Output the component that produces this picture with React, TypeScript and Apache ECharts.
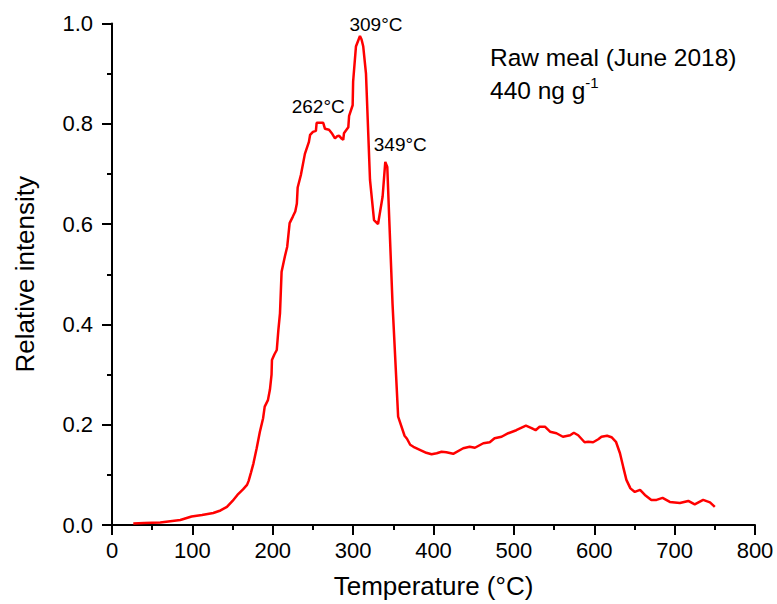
import React, { useEffect, useRef } from "react";
import * as echarts from "echarts";

// Thermal desorption profile, raw meal sample
const temperatures = [
  26.5, 40, 60, 75, 85, 99, 112, 126, 135, 143, 150, 156, 163, 168, 170, 173, 176, 180, 184, 188,
  190, 194, 196.5, 198.5, 199, 202, 205, 207, 209, 211, 215, 218, 221, 225, 228, 230, 231, 235, 240, 245,
  246.5, 250, 253.7, 254.6, 258, 262.8, 265, 270, 274, 277.4, 280, 282.7, 286, 287.7, 288.6, 294, 295, 299.4, 300, 303.5,
  308.5, 310.5, 312.6, 316, 321, 326, 331, 336.7, 340, 342.5, 345, 349, 356, 364, 367, 371, 375, 383, 391, 397.6,
  404, 410, 416, 424.5, 437, 445, 451.5, 462, 470, 476, 484.7, 493, 503, 515, 522, 527, 532, 538.6, 545, 553,
  561, 570, 574.6, 580, 588, 592.5, 598.6, 605, 609, 616, 621.5, 627, 632, 636, 640, 645, 650.5, 657, 663, 671,
  677.5, 685, 694, 706.5, 717, 725, 735.5, 744, 750,
];
const intensities = [
  0.003, 0.004, 0.005, 0.008, 0.01, 0.017, 0.02, 0.024, 0.029, 0.036, 0.048, 0.06, 0.071, 0.08, 0.088, 0.105, 0.123, 0.153, 0.186, 0.213,
  0.236, 0.249, 0.27, 0.3, 0.329, 0.34, 0.349, 0.389, 0.422, 0.505, 0.535, 0.555, 0.602, 0.615, 0.625, 0.641, 0.673, 0.698, 0.74, 0.764,
  0.778, 0.784, 0.786, 0.802, 0.802, 0.802, 0.79, 0.788, 0.78, 0.771, 0.775, 0.776, 0.77, 0.768, 0.781, 0.793, 0.816, 0.837, 0.884, 0.954,
  0.975, 0.968, 0.954, 0.9, 0.688, 0.608, 0.6, 0.655, 0.724, 0.714, 0.608, 0.442, 0.216, 0.178, 0.172, 0.16, 0.156, 0.15, 0.144, 0.141,
  0.143, 0.146, 0.145, 0.142, 0.153, 0.156, 0.154, 0.163, 0.165, 0.173, 0.176, 0.183, 0.189, 0.198, 0.193, 0.189, 0.196, 0.196, 0.186, 0.183,
  0.176, 0.179, 0.184, 0.179, 0.165, 0.166, 0.165, 0.171, 0.176, 0.178, 0.175, 0.166, 0.143, 0.116, 0.09, 0.073, 0.066, 0.07, 0.06, 0.05,
  0.05, 0.054, 0.046, 0.044, 0.048, 0.041, 0.05, 0.045, 0.036,
];

// Peak annotations
const peakTemps = [262.8, 308.5, 340];
const peakValues = [0.802, 0.975, 0.724];
const peakLabels = ["262°C", "309°C", "349°C"];
const peakOffsets: [number, number][] = [
  [-5, -16],
  [16, -12],
  [15, -17],
];

const FONT = "'Liberation Sans', Arial, Helvetica, sans-serif";

export default function App() {
  const ref = useRef<HTMLDivElement>(null);

  useEffect(() => {
    if (!ref.current) return;
    const chart = echarts.init(ref.current, undefined, { renderer: "svg" });
    const points = temperatures.map((t, i) => [t, intensities[i]]);

    const axisCommon = {
      axisLine: { show: true, onZero: false, lineStyle: { color: "#000", width: 2 } },
      axisTick: { show: true, inside: false, length: 10, lineStyle: { color: "#000", width: 2 } },
      minorTick: { show: true, splitNumber: 2, length: 5, lineStyle: { color: "#000", width: 2 } },
      splitLine: { show: false },
      minorSplitLine: { show: false },
      nameTextStyle: { fontFamily: FONT, fontSize: 26, color: "#000" },
    };

    chart.setOption({
      animation: false,
      backgroundColor: "#fff",
      grid: { left: 112, right: 22, top: 23.5, bottom: 79, containLabel: false },
      xAxis: {
        type: "value",
        min: 0,
        max: 800,
        interval: 100,
        name: "Temperature (°C)",
        nameLocation: "middle",
        nameGap: 48,
        ...axisCommon,
        axisLabel: { margin: 14, fontFamily: FONT, fontSize: 22, color: "#000" },
      },
      yAxis: {
        type: "value",
        min: 0,
        max: 1,
        interval: 0.2,
        name: "Relative intensity",
        nameLocation: "middle",
        nameGap: 74,
        ...axisCommon,
        axisLabel: {
          margin: 19,
          fontFamily: FONT,
          fontSize: 22,
          color: "#000",
          formatter: (v: number) => v.toFixed(1),
        },
      },
      series: [
        {
          type: "line",
          data: points,
          showSymbol: false,
          symbol: "none",
          lineStyle: { color: "#ff0000", width: 2.5 },
          markPoint: {
            symbol: "circle",
            symbolSize: 0,
            silent: true,
            label: {
              show: true,
              position: "inside",
              fontFamily: FONT,
              fontSize: 19,
              color: "#000",
            },
            data: peakLabels.map((txt, i) => ({
              coord: [peakTemps[i], peakValues[i]],
              label: { formatter: txt, offset: peakOffsets[i] },
            })),
          },
        },
      ],
      graphic: [
        {
          type: "text",
          left: 490,
          top: 45,
          style: {
            text: "Raw meal (June 2018)",
            font: `24.5px ${FONT}`,
            fill: "#000",
          },
        },
        {
          type: "text",
          left: 490,
          top: 75,
          style: {
            text: "{a|440 ng g}{s|-1}",
            fill: "#000",
            rich: {
              a: { fontFamily: FONT, fontSize: 24.5, lineHeight: 28, verticalAlign: "bottom" },
              s: { fontFamily: FONT, fontSize: 15, lineHeight: 15, verticalAlign: "top" },
            },
          },
        },
      ],
    });

    return () => chart.dispose();
  }, []);

  return (
    <div
      ref={ref}
      style={{ position: "fixed", left: 0, top: 0, width: 777, height: 604, background: "#fff" }}
    />
  );
}
